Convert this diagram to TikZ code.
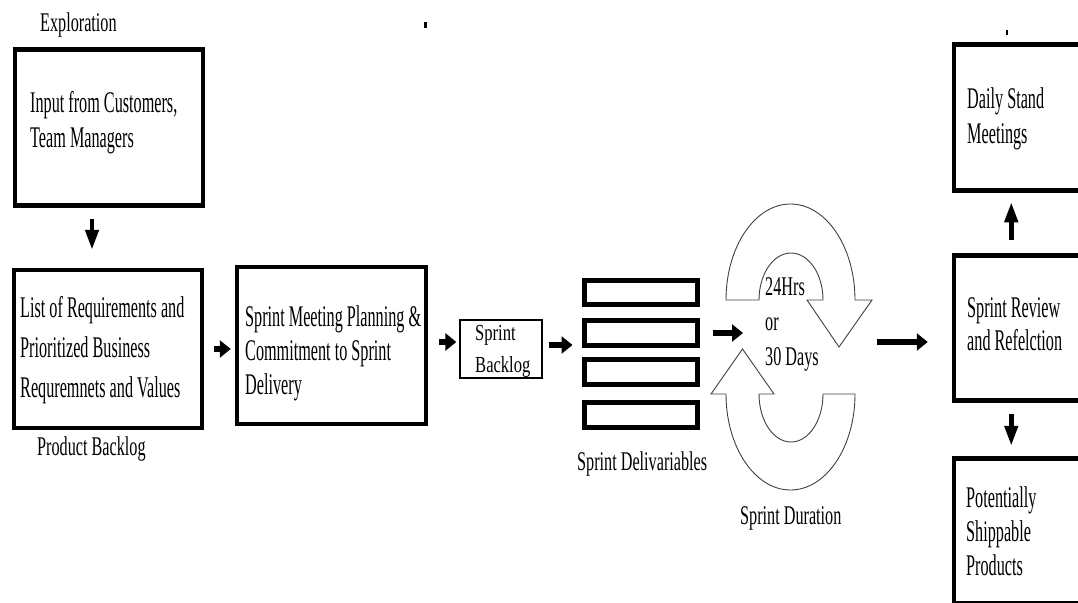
\documentclass[tikz,border=0pt]{standalone}
\usepackage{fontspec}
\usetikzlibrary{arrows.meta,fit,calc}
\newfontfamily\boxfont[FakeStretch=0.54]{Liberation Serif}
\newfontfamily\lblfont[FakeStretch=0.6]{Liberation Serif}
\newfontfamily\bklgfont[FakeStretch=0.72]{Liberation Serif}

\begin{document}
\begin{tikzpicture}[x=1pt,y=-1pt,
  frame/.style={draw, rectangle, line width=4.5pt, inner sep=0pt},
  thinframe/.style={draw, rectangle, line width=1.3pt, inner sep=0pt},
  delivbar/.style={draw, rectangle, line width=5pt, inner sep=0pt},
  boxtext/.style={anchor=base west, inner sep=0pt, align=flush left,
    font=\boxfont\fontsize{30}{35}\selectfont},
  labeltext/.style={anchor=base west, inner sep=0pt,
    font=\lblfont\fontsize{27}{35}\selectfont},
  harrow/.style={line width=5.5pt, -{Triangle[length=11pt,width=17pt]}},
  varrow/.style={line width=4.5pt, -{Triangle[length=20pt,width=13pt]}},
  loopshape/.style={draw=black!75, line width=0.9pt, fill=white, line join=miter}]

\useasboundingbox (0,0) rectangle (1078,602);
\clip (0,0) rectangle (1078,602);

% ---------- boxes ----------
\node[frame, fit={(15,49.5) (203,205.5)}] (input) {};
\node[frame, fit={(14,270) (202,428)}] (list) {};
\node[frame, fit={(237,267) (426,424)}] (plan) {};
\node[thinframe, fit={(460,320) (542,378)}] (backlog) {};
\node[delivbar, fit={(584.5,280.5) (697.5,304.5)}] (bar1) {};
\node[delivbar, fit={(584.5,320.5) (697.5,345.5)}] (bar2) {};
\node[delivbar, fit={(584.5,359.5) (697.5,384.5)}] (bar3) {};
\node[delivbar, fit={(584.5,402.5) (697.5,427.5)}] (bar4) {};
\node[frame, fit={(954,44.5) (1100,190.5)}] (daily) {};
\node[frame, fit={(954,255.5) (1100,400.5)}] (review) {};
\node[frame, fit={(954,458.5) (1100,603)}] (potential) {};

% ---------- sprint cycle arrows ----------
\draw[loopshape] (726,300)
  arc[start angle=180, end angle=0, x radius=64.5pt, y radius=96pt]
  -- (872,300) -- (839,347) -- (807,300) -- (823,300)
  arc[start angle=0, end angle=180, x radius=32pt, y radius=47pt] -- cycle;
\draw[loopshape] (726,394) -- (711,394) -- (742.5,349) -- (774,394) -- (759,394)
  arc[start angle=180, end angle=360, x radius=32pt, y radius=48pt]
  -- (855,394)
  arc[start angle=0, end angle=-180, x radius=64.5pt, y radius=96pt] -- cycle;
\coordinate (loopin) at (743,333);
\coordinate (loopout) at (877,342);

% ---------- texts ----------
\node[boxtext, text width=175pt] (input-txt) at (30,112) {Input from Customers,\\Team Managers};
\node[boxtext, text width=180pt, font=\boxfont\fontsize{30}{40}\selectfont] (list-txt) at (20,317)
  {List of Requirements and\\Prioritized Business\\Requremnets and Values};
\node[boxtext, text width=180pt, font=\boxfont\fontsize{30}{34}\selectfont] (plan-txt) at (245,326)
  {Sprint Meeting Planning \&\\Commitment to Sprint\\Delivery};
\node[boxtext, text width=62pt, font=\bklgfont\fontsize{23}{32}\selectfont] (backlog-txt) at (475,340)
  {Sprint\\Backlog};
\node[boxtext, text width=100pt] (daily-txt) at (967,108) {Daily Stand\\Meetings};
\node[boxtext, text width=100pt, font=\boxfont\fontsize{30}{33}\selectfont] (review-txt) at (967,317)
  {Sprint Review\\and Refelction};
\node[boxtext, text width=100pt, font=\boxfont\fontsize{30}{34}\selectfont] (potential-txt) at (966,507)
  {Potentially\\Shippable\\Products};
\node[boxtext, text width=62pt, font=\lblfont\fontsize{27}{35}\selectfont] (cycle-txt) at (765,295)
  {24Hrs\\or\\30 Days};

\node[labeltext] (exploration) at (40,32) {Exploration};
\node[labeltext] (product-backlog) at (37,455) {Product Backlog};
\node[labeltext] (deliv-label) at (577,470) {Sprint Delivariables};
\node[labeltext] (duration-label) at (740,524) {Sprint Duration};

% small stray marks
\fill (424,22) rectangle (427,28);
\fill (1006,30) rectangle (1008,35);

% ---------- connectors ----------
\draw[varrow, shorten <=11.5pt, shorten >=18pt]
  ([xshift=-17pt]input.south) -- ([xshift=-17pt]input.south |- list.north);
\draw[harrow, shorten <=10pt, shorten >=4pt] (list.east) -- (list.east -| plan.west);
\draw[harrow, shorten <=11pt, shorten >=3pt]
  ($(plan.east)+(0,-3.5)$) -- ($(plan.east -| backlog.west)+(0,-3.5)$);
\draw[harrow, shorten <=6pt, shorten >=9.5pt]
  ($(backlog.east)+(0,-4)$) -- ($(backlog.east -| bar2.west)+(0,-4)$);
\draw[harrow, shorten <=12.5pt] (bar2.east) -- (loopin);
\draw[harrow, shorten >=24pt] (loopout) -- (loopout -| review.west);
\draw[varrow, shorten <=13.5pt, shorten >=9.5pt]
  ([xshift=59.5pt]review.north west) -- ([xshift=59.5pt]daily.south west);
\draw[varrow, shorten <=11.5pt, shorten >=10.5pt]
  ([xshift=59.5pt]review.south west) -- ([xshift=59.5pt]potential.north west);
\end{tikzpicture}
\end{document}
